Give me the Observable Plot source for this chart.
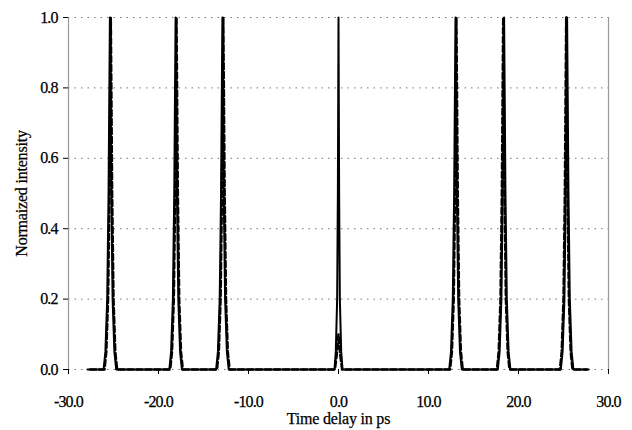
<!DOCTYPE html>
<html>
<head>
<meta charset="utf-8">
<script src="https://cdn.jsdelivr.net/npm/d3@7"></script>
<script src="https://cdn.jsdelivr.net/npm/@observablehq/plot@0.6"></script>
<style>
  html, body { margin: 0; padding: 0; background: #fff; }
  #chart svg { display: block; }
  #chart svg, #chart svg text { font-family: "Liberation Serif", "Times New Roman", serif !important; }
  #chart svg text { stroke: #000; stroke-width: 0.25px; }
  #chart g[aria-label="x-axis tick label"] text,
  #chart g[aria-label="y-axis tick label"] text { letter-spacing: -0.9px; }
  #chart g[aria-label="x-axis label"] text,
  #chart g[aria-label="y-axis label"] text { letter-spacing: -0.2px; }
</style>
</head>
<body>
<div id="chart"></div>
<script>
const xTicks = [-30, -20, -10, 0, 10, 20, 30];
const yTicks = [0, 0.2, 0.4, 0.6, 0.8, 1.0];
const xLabel = "Time delay in ps";
const yLabel = "Normaized intensity";

const solidTime = [
  -27.9,
  -26.1, -25.9, -25.7, -25.55, -25.4, -25.25, -25.1, -24.9, -24.7,
  -18.8, -18.6, -18.4, -18.25, -18.1, -17.95, -17.8, -17.6, -17.4,
  -13.6, -13.4, -13.2, -13.05, -12.9, -12.75, -12.6, -12.4, -12.2,
  -0.45, -0.3, -0.15, -0.07, 0, 0.07, 0.15, 0.3, 0.45,
  12.3, 12.5, 12.7, 12.85, 13.0, 13.15, 13.3, 13.5, 13.7,
  17.7, 17.9, 18.1, 18.25, 18.4, 18.55, 18.7, 18.9, 19.1,
  24.7, 24.9, 25.1, 25.25, 25.4, 25.55, 25.7, 25.9, 26.1,
  27.8
];
const solidIntensity = [
  0,
  0, 0.05, 0.2, 0.5, 1, 0.5, 0.2, 0.05, 0,
  0, 0.05, 0.2, 0.5, 1, 0.5, 0.2, 0.05, 0,
  0, 0.05, 0.2, 0.5, 1, 0.5, 0.2, 0.05, 0,
  0, 0.05, 0.2, 0.5, 1, 0.5, 0.2, 0.05, 0,
  0, 0.05, 0.2, 0.5, 1, 0.5, 0.2, 0.05, 0,
  0, 0.05, 0.2, 0.5, 1, 0.5, 0.2, 0.05, 0,
  0, 0.05, 0.2, 0.5, 1, 0.5, 0.2, 0.05, 0,
  0
];

const dashedTime = [
  -27.6,
  -26.0, -25.8, -25.6, -25.45, -25.3, -25.15, -25.0, -24.8, -24.6,
  -18.7, -18.5, -18.3, -18.15, -18.0, -17.85, -17.7, -17.5, -17.3,
  -13.5, -13.3, -13.1, -12.95, -12.8, -12.65, -12.5, -12.3, -12.1,
  -0.4, -0.2, 0, 0.2, 0.4,
  12.4, 12.6, 12.8, 12.95, 13.1, 13.25, 13.4, 13.6, 13.8,
  17.6, 17.8, 18.0, 18.15, 18.3, 18.45, 18.6, 18.8, 19.0,
  24.6, 24.8, 25.0, 25.15, 25.3, 25.45, 25.6, 25.8, 26.0,
  27.6
];
const dashedIntensity = [
  0,
  0, 0.05, 0.2, 0.5, 1, 0.5, 0.2, 0.05, 0,
  0, 0.05, 0.2, 0.5, 1, 0.5, 0.2, 0.05, 0,
  0, 0.05, 0.2, 0.5, 1, 0.5, 0.2, 0.05, 0,
  0, 0.04, 0.1, 0.04, 0,
  0, 0.05, 0.2, 0.5, 1, 0.5, 0.2, 0.05, 0,
  0, 0.05, 0.2, 0.5, 1, 0.5, 0.2, 0.05, 0,
  0, 0.05, 0.2, 0.5, 1, 0.5, 0.2, 0.05, 0,
  0
];

const solid = solidTime.map((t, i) => ({t, v: solidIntensity[i]}));
const dashed = dashedTime.map((t, i) => ({t, v: dashedIntensity[i]}));
const fmt = (d) => d.toFixed(1);
const serif = "Liberation Serif";

const chart = Plot.plot({
  width: 632,
  height: 430,
  marginLeft: 68,
  marginRight: 24,
  marginTop: 17,
  marginBottom: 61,
  style: {fontFamily: serif, fontSize: "16px", color: "#000", background: "#fff"},
  x: {domain: [-30, 30]},
  y: {domain: [0, 1]},
  marks: [
    Plot.gridY(yTicks, {stroke: "#777", strokeOpacity: 1, strokeDasharray: "1.5,5"}),
    Plot.ruleX([-30], {stroke: "#999", strokeWidth: 1.2}),
    Plot.ruleX([30], {stroke: "#999", strokeWidth: 1.2}),
    Plot.axisY(yTicks, {
      tickSize: 5, tickPadding: 6, tickFormat: fmt,
      label: yLabel, labelAnchor: "center", labelArrow: "none", labelOffset: 53,
      fontSize: 16, fontFamily: serif
    }),
    Plot.axisX(xTicks, {
      tickSize: 5, tickPadding: 21, tickFormat: fmt,
      label: xLabel, labelAnchor: "center", labelArrow: "none", labelOffset: 54,
      fontSize: 16, fontFamily: serif
    }),
    Plot.line(solid, {x: "t", y: "v", stroke: "#000", strokeWidth: 2}),
    Plot.line(dashed, {x: "t", y: "v", stroke: "#000", strokeWidth: 2.5, strokeDasharray: "6,3"})
  ]
});
document.getElementById("chart").appendChild(chart);
</script>
</body>
</html>
